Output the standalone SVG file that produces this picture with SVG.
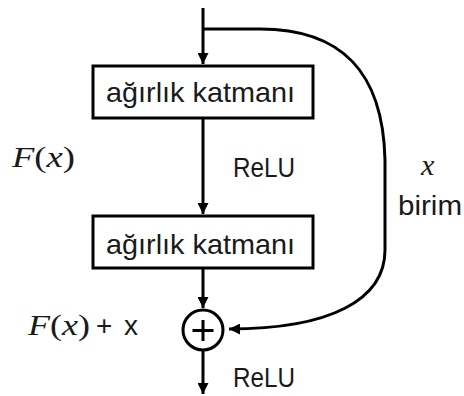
<svg xmlns="http://www.w3.org/2000/svg" width="464" height="396" viewBox="0 0 464 396">
  <defs>
    <marker id="arrow" markerWidth="11" markerHeight="11" refX="11" refY="5.5" orient="auto" markerUnits="userSpaceOnUse">
      <path d="M0,0 L11,5.5 L0,11 Z" fill="#000"/>
    </marker>
    <style>
      .box { fill: #fff; stroke: #000; stroke-width: 3; }
      .line { fill: none; stroke: #000; stroke-width: 3; }
      .lbl { font-family: "Liberation Sans", Arial, sans-serif; font-size: 28px; fill: #1a1a1a; }
      .math { font-family: "Liberation Serif", "DejaVu Serif", serif; font-size: 30px; fill: #1a1a1a; }
    </style>
  </defs>
  <rect width="464" height="396" fill="#fff"/>

  <g id="connectors">
    <line class="line" x1="203" y1="8" x2="203" y2="64" marker-end="url(#arrow)"/>
    <line class="line" x1="203" y1="118" x2="203" y2="214" marker-end="url(#arrow)"/>
    <line class="line" x1="203" y1="268" x2="203" y2="308" marker-end="url(#arrow)"/>
    <line class="line" x1="203" y1="351" x2="203" y2="394" marker-end="url(#arrow)"/>
    <path class="line" d="M203,29 H260 C340,29 383,70 385,160 L385,250 C385,300 330,329 229,329" marker-end="url(#arrow)"/>
  </g>

  <g id="layer1">
    <rect class="box" x="93" y="66" width="220" height="52"/>
    <text class="lbl" x="106" y="101.5" textLength="189" lengthAdjust="spacingAndGlyphs">ağırlık katmanı</text>
  </g>

  <g id="layer2">
    <rect class="box" x="93" y="216" width="220" height="52"/>
    <text class="lbl" x="106" y="253.5" textLength="189" lengthAdjust="spacingAndGlyphs">ağırlık katmanı</text>
  </g>

  <g id="sum">
    <circle class="box" cx="203" cy="330" r="20"/>
    <path class="line" d="M203,320 V341 M192.5,330.5 H213.5" stroke-width="2.5"/>
  </g>

  <g id="labels">
    <text class="lbl" x="233" y="176.5" textLength="62" lengthAdjust="spacingAndGlyphs">ReLU</text>
    <text class="lbl" x="233" y="386.5" textLength="62" lengthAdjust="spacingAndGlyphs">ReLU</text>
    <text class="math" x="12" y="167" textLength="63" lengthAdjust="spacingAndGlyphs"><tspan font-style="italic">F</tspan>(<tspan font-style="italic">x</tspan>)</text>
    <text class="math" x="28" y="335" textLength="62" lengthAdjust="spacingAndGlyphs"><tspan font-style="italic">F</tspan>(<tspan font-style="italic">x</tspan>)</text>
    <text class="lbl" x="96" y="335" font-size="24">+</text>
    <text class="lbl" x="124" y="335" font-size="26">x</text>
    <text class="math" x="421" y="175" font-size="33" font-style="italic">x</text>
    <text class="lbl" x="398" y="215" textLength="64" lengthAdjust="spacingAndGlyphs">birim</text>
  </g>
</svg>
